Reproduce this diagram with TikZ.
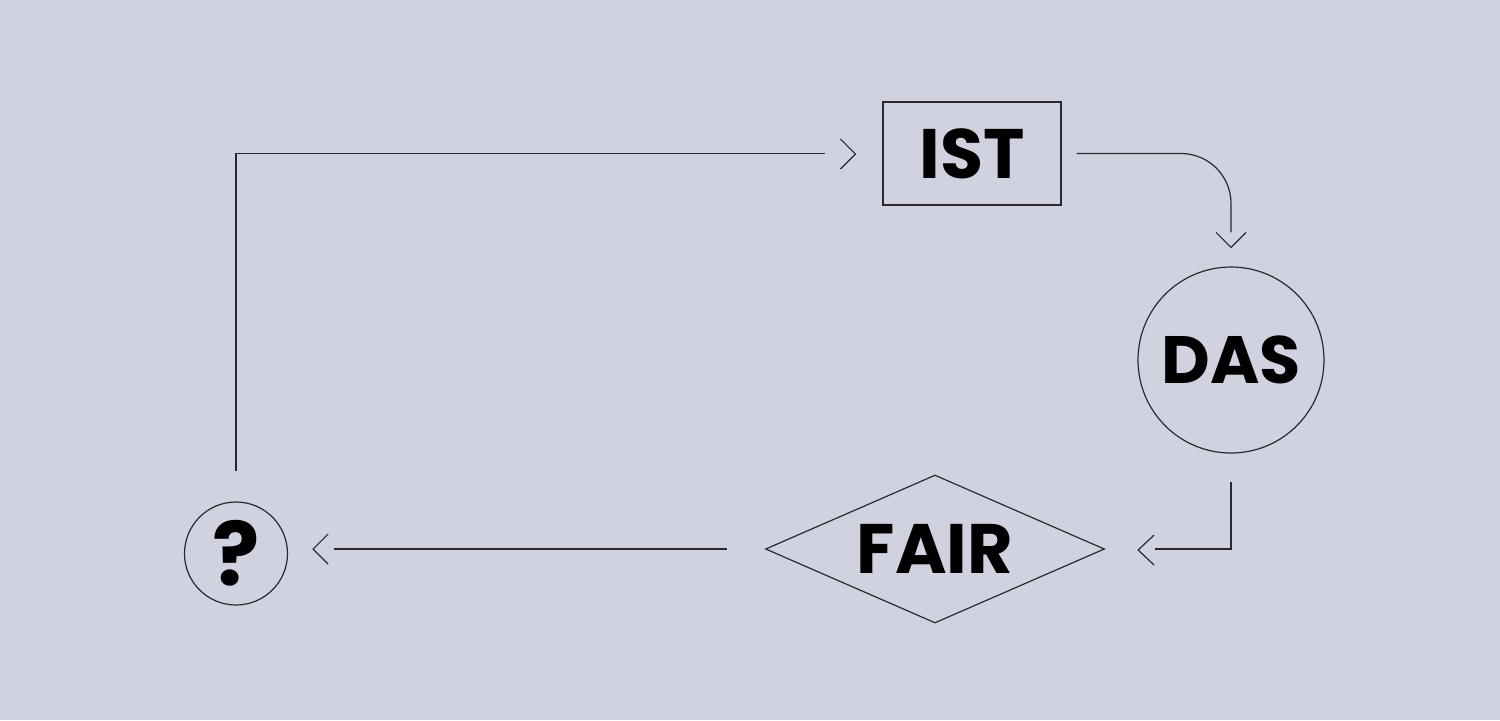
\documentclass[tikz,border=0pt]{standalone}
\usepackage{fontspec}
\setmainfont{Poppins}
\usetikzlibrary{shapes.geometric}
\definecolor{bg}{HTML}{D0D3DF}
\definecolor{ink}{HTML}{2A2A2E}
\begin{document}
\begin{tikzpicture}[x=0.5pt,y=-0.5pt,
  shapeline/.style={draw=ink,line width=0.6pt,inner sep=0pt,
    font=\fontsize{35}{35}\selectfont\bfseries,text=black},
  conn/.style={draw=ink,line width=0.6pt},
  chev/.style={draw=ink,line width=0.6pt,line join=miter}]
\fill[bg] (0,0) rectangle (1500,720);
\useasboundingbox (0,0) rectangle (1500,720);
% nodes
\node[shapeline,rectangle,minimum width=89pt,minimum height=51.5pt] (ist) at (972,153.5) {IST};
\node[shapeline,circle,minimum size=93pt] (das) at (1231,360) {\fontsize{33.5}{34}\selectfont DAS};
\node[shapeline,diamond,shape aspect=2.29,minimum width=169.5pt,minimum height=74pt] (fair) at (935,549) {FAIR};
\node[shapeline,circle,minimum size=51.5pt,font=\fontsize{44}{44}\selectfont\bfseries] (q) at (236,553.5) {?};
% connectors
\draw[conn,shorten <=15pt,shorten >=28.5pt] (q.north) |- (ist.west);
\draw[conn,rounded corners=25pt,shorten <=7.5pt,shorten >=17pt] (ist.east) -| (das.north);
\draw[conn,shorten <=14pt,shorten >=25pt] (das.south) |- (fair.east);
\draw[conn,shorten <=19pt,shorten >=23pt] (fair.west) -- (fair.west -| q.east);
% chevrons
\coordinate (t1) at ([shift={(-27,0.5)}]ist.west);
\coordinate (t2) at ([shift={(0,-19)}]das.north);
\coordinate (t3) at ([shift={(33,1)}]fair.east);
\coordinate (t4) at ([shift={(25,0)}]fair.west -| q.east);
\draw[chev] ([shift={(-15,-15)}]t1) -- (t1) -- ([shift={(-15,15)}]t1);
\draw[chev] ([shift={(-15,-15)}]t2) -- (t2) -- ([shift={(15,-15)}]t2);
\draw[chev] ([shift={(16,-15)}]t3) -- (t3) -- ([shift={(16,15)}]t3);
\draw[chev] ([shift={(15,-15)}]t4) -- (t4) -- ([shift={(15,15)}]t4);
\end{tikzpicture}
\end{document}
